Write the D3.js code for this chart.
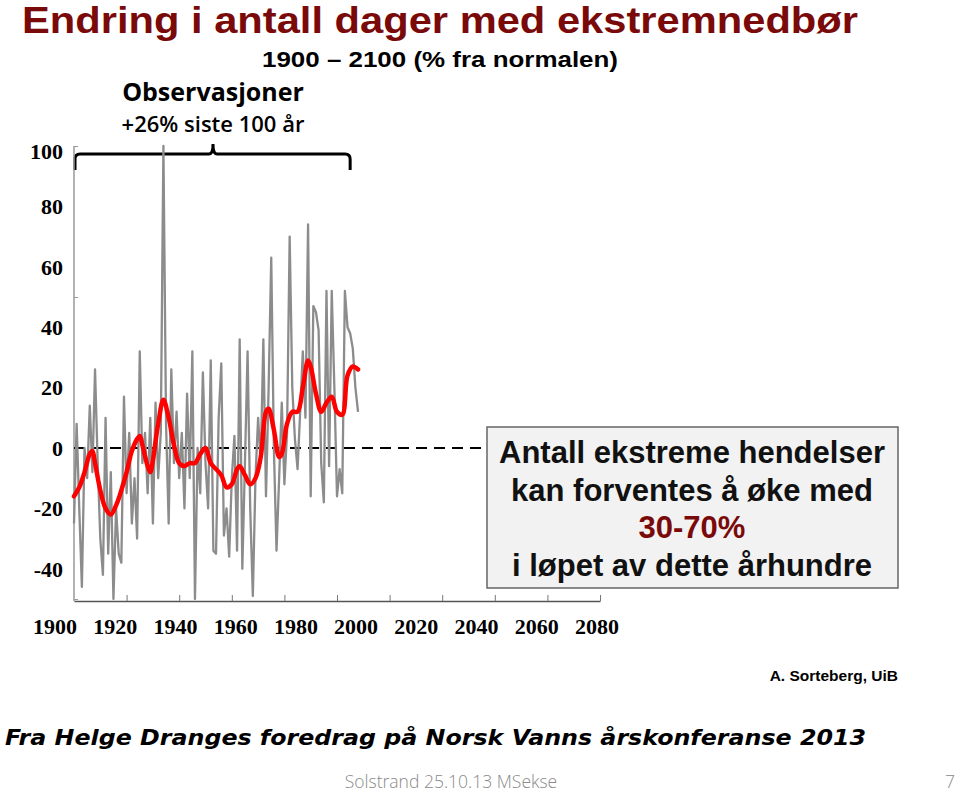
<!DOCTYPE html>
<html>
<head>
<meta charset="utf-8">
<script src="https://cdn.jsdelivr.net/npm/d3@7"></script>
<style>
  body { margin: 0; background: #fff; }
  svg { display: block; }
</style>
</head>
<body>
<svg id="chart" width="959" height="794"></svg>
<script>
// yearly observations, % change from normal, 1900-2008
const years = d3.range(1900, 2009)
const observed = [
  -25, 8, -20, -46, 0, -10, 14, -8, 26, -5,
  -30, -42, 10, -35, -8, -50, -20, -35, -38, 17,
  -15, 5, -25, -10, -30, 32, -5, 5, -15, 10,
  -25, 15, -10, 5, 100, 8, -25, 26, -5, 12,
  -10, 5, -20, 18, -10, 32, -50, 0, -15, 25,
  -5, -20, 29, -34, -35, 10, 28, -29, -20, -36,
  -10, 4, -34, 36, -40, -5, 32, -20, -49, -10,
  10, -5, 36, -16, 20, 63, 0, -34, -10, 15,
  -12, 5, 70, 20, 3, -7, 12, 32, 10, 74,
  -16, 47, 45, 39, -5, -18, 52, -6, 52, 20,
  -16, -7, -15, 52, 40, 38, 33, 20, 12
]

// smoothed curve, read at these years
const smoothYears = [1900, 1902, 1904, 1906, 1907, 1908, 1910, 1912, 1914, 1916,
  1918, 1920, 1922, 1924, 1925, 1926, 1928, 1929, 1930, 1932,
  1934, 1936, 1938, 1940, 1942, 1944, 1946, 1948, 1950, 1952,
  1954, 1956, 1958, 1960, 1962, 1963, 1965, 1967, 1969, 1971,
  1973, 1974, 1976, 1978, 1979, 1981, 1983, 1985, 1987, 1989,
  1990, 1992, 1994, 1996, 1998, 2000, 2002, 2004, 2006, 2008]
const smoothed = [-16, -13, -8, -2, -1, -5, -14, -20, -22, -19,
  -14, -8, -1, 3, 4, 1, -6, -8, -4, 8,
  16, 10, 1, -5, -6, -5, -5, -2, 0, -5,
  -7, -9, -13, -12, -7, -6, -9, -12, -10, -3,
  12, 13, 6, -3, -2, 8, 12, 12, 20, 29,
  27, 18, 12, 15, 17, 12, 11, 24, 27, 26]

const yLabels = [100, 80, 60, 40, 20, 0, -20, -40]
const yTicks = [100, 50, 0, -50]
const xLabels = ['1900', '1920', '1940', '1960', '1980', '2000', '2020', '2040', '2060', '2080']
const xTicks = d3.range(1920, 2101, 20)

const boxLines = ['Antall ekstreme hendelser', 'kan forventes å øke med', '30-70%', 'i løpet av dette århundre']

const svg = d3.select('#chart')
const darkRed = '#7a0a0a'

const x = d3.scaleLinear().domain([1900, 2100]).range([74, 600])
const y = d3.scaleLinear().domain([-50, 100]).range([599, 146])
// the tick labels in the original sit on their own, evenly spread row
const xl = d3.scalePoint().domain(xLabels).range([55, 597])

// titles
svg.append('text')
  .attr('x', 22).attr('y', 33)
  .attr('textLength', 836).attr('lengthAdjust', 'spacingAndGlyphs')
  .style('font', 'bold 37px "Liberation Sans", Arial, sans-serif')
  .attr('fill', darkRed)
  .text('Endring i antall dager med ekstremnedbør')

svg.append('text')
  .attr('x', 262).attr('y', 67)
  .attr('textLength', 356).attr('lengthAdjust', 'spacingAndGlyphs')
  .style('font', 'bold 22px "Liberation Sans", Arial, sans-serif')
  .text('1900 – 2100 (% fra normalen)')

svg.append('text')
  .attr('x', 213).attr('y', 101).attr('text-anchor', 'middle')
  .style('font', 'bold 25px "Open Sans", sans-serif')
  .text('Observasjoner')

svg.append('text')
  .attr('x', 213).attr('y', 132).attr('text-anchor', 'middle')
  .style('font', '600 22px "Open Sans", sans-serif')
  .text('+26% siste 100 år')

// curly bracket over the observation period
const bx0 = x(1900) + 1, bx1 = x(2005), bm = 213, by = 154
svg.append('path')
  .attr('d', `M${bx0},170 L${bx0},${by + 5} Q${bx0},${by} ${bx0 + 5},${by}
    L${bm - 4},${by} Q${bm},${by} ${bm},${by - 10} Q${bm},${by} ${bm + 4},${by}
    L${bx1 - 5},${by} Q${bx1},${by} ${bx1},${by + 5} L${bx1},170`)
  .attr('fill', 'none').attr('stroke', '#000').attr('stroke-width', 3)

// axes
svg.append('line')
  .attr('x1', x(1900)).attr('x2', x(1900))
  .attr('y1', y(100)).attr('y2', 601)
  .attr('stroke', '#999').attr('stroke-width', 1.5)

svg.append('g')
  .attr('transform', `translate(${x(1900)},0)`)
  .call(d3.axisRight(y).tickValues(yTicks).tickSize(4).tickFormat(''))
  .call(g => g.select('.domain').remove())
  .call(g => g.selectAll('line').attr('stroke', '#999'))

svg.append('g')
  .attr('transform', 'translate(0,601)')
  .call(d3.axisBottom(x).tickValues(xTicks).tickSizeInner(-6).tickSizeOuter(0).tickFormat(''))
  .call(g => g.select('.domain').attr('stroke', '#555').attr('stroke-width', 1.5))
  .call(g => g.selectAll('line').attr('stroke', '#777'))

svg.append('g')
  .selectAll('text')
  .data(yLabels)
  .join('text')
  .attr('x', 63).attr('y', d => d === 100 ? y(d) + 5 : y(d)).attr('dy', '0.35em')
  .attr('text-anchor', 'end')
  .style('font', 'bold 22px "Liberation Serif", "Times New Roman", serif')
  .text(d => d)

svg.append('g')
  .selectAll('text')
  .data(xLabels)
  .join('text')
  .attr('x', d => xl(d)).attr('y', 634)
  .attr('text-anchor', 'middle')
  .style('font', 'bold 22px "Liberation Serif", "Times New Roman", serif')
  .text(d => d)

// zero line
svg.append('line')
  .attr('x1', x(1900)).attr('x2', 490)
  .attr('y1', y(0)).attr('y2', y(0))
  .attr('stroke', '#000').attr('stroke-width', 2)
  .attr('stroke-dasharray', '11,7')

// observations
const line = d3.line().x(d => x(d[0])).y(d => y(d[1]))
svg.append('path')
  .datum(d3.zip(years, observed))
  .attr('d', line)
  .attr('fill', 'none').attr('stroke', '#8c8c8c').attr('stroke-width', 2.3)
  .attr('stroke-linejoin', 'round')

svg.append('path')
  .datum(d3.zip(smoothYears, smoothed))
  .attr('d', line.curve(d3.curveCatmullRom))
  .attr('fill', 'none').attr('stroke', '#ff0000').attr('stroke-width', 4.5)
  .attr('stroke-linejoin', 'round').attr('stroke-linecap', 'round')

// projection box
svg.append('rect')
  .attr('x', 487).attr('y', 427).attr('width', 411).attr('height', 161)
  .attr('fill', '#f2f2f2').attr('stroke', '#666').attr('stroke-width', 1.5)

svg.append('g')
  .selectAll('text')
  .data(boxLines)
  .join('text')
  .attr('x', 692).attr('y', (d, i) => 463 + i * 37.5)
  .attr('text-anchor', 'middle')
  .style('font', 'bold 31px "Liberation Sans", Arial, sans-serif')
  .attr('fill', (d, i) => i === 2 ? darkRed : '#111')
  .text(d => d)

// credits
svg.append('text')
  .attr('x', 898).attr('y', 681).attr('text-anchor', 'end')
  .style('font', 'bold 15.5px "Liberation Sans", Arial, sans-serif')
  .text('A. Sorteberg, UiB')

svg.append('text')
  .attr('x', 5).attr('y', 745)
  .attr('textLength', 861).attr('lengthAdjust', 'spacingAndGlyphs')
  .style('font', 'italic bold 22px "DejaVu Sans", Verdana, sans-serif')
  .text('Fra Helge Dranges foredrag på Norsk Vanns årskonferanse 2013')

svg.append('text')
  .attr('x', 451).attr('y', 788).attr('text-anchor', 'middle')
  .style('font', '300 17.5px "Open Sans", sans-serif')
  .attr('fill', '#8a8a8a')
  .text('Solstrand 25.10.13 MSekse')

svg.append('text')
  .attr('x', 955).attr('y', 788).attr('text-anchor', 'end')
  .style('font', '300 17.5px "Open Sans", sans-serif')
  .attr('fill', '#8a8a8a')
  .text('7')
</script>
</body>
</html>
